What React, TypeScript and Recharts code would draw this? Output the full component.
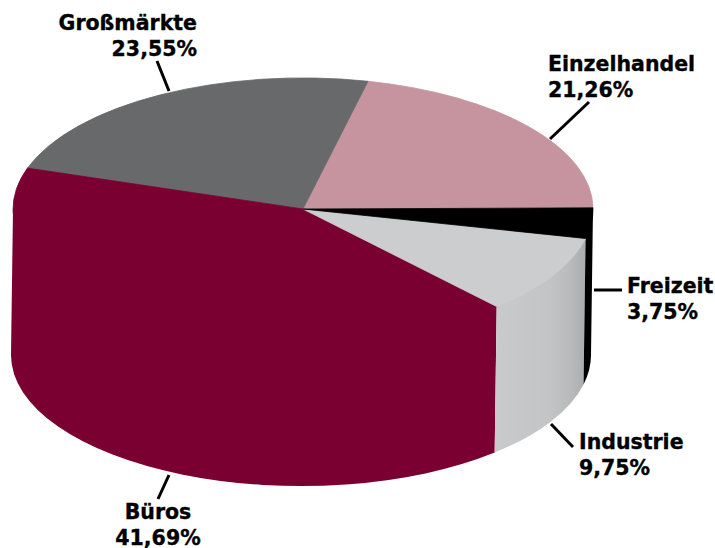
import React from "react";
import { PieChart, Pie } from "recharts";

const names = ["Einzelhandel", "Großmärkte", "Büros", "Industrie", "Freizeit"];
const shares = [21.26, 23.55, 41.69, 9.75, 3.75];
const topColors = ["#C6949F", "#68696B", "#7B0032", "#CBCDCF", "#000000"];
const sideColors = ["#C6949F", "#68696B", "#7B0032", "url(#industrieSide)", "#000000"];

const rows = names.map((name, i) => ({ name, value: shares[i], top: topColors[i], side: sideColors[i] }));

const CX = 303;
const CY = 209;
const RADIUS = 290;
const TILT = 0.452;
const DEPTH = 146;
const BASE_SHIFT = -2;
const START = 0.5;
const RAD = Math.PI / 180;

type Anchor = "start" | "end" | "middle";
const labelLayout: Record<string, { x: number; y: number; anchor: Anchor; line: number[] }> = {
  "Einzelhandel": { x: 548, y: 71, anchor: "start", line: [550, 139, 589, 102] },
  "Großmärkte": { x: 197, y: 30, anchor: "end", line: [169, 91, 157, 61] },
  "Büros": { x: 158, y: 519, anchor: "middle", line: [169, 475, 158, 499] },
  "Industrie": { x: 579, y: 449, anchor: "start", line: [551, 424, 573, 447] },
  "Freizeit": { x: 627, y: 293, anchor: "start", line: [594, 290, 622, 290] },
};

const pt = (cx: number, cy: number, r: number, t: number) =>
  `${(cx + r * Math.cos(t * RAD)).toFixed(2)} ${(cy - r * TILT * Math.sin(t * RAD)).toFixed(2)}`;

function TopFace(p: any) {
  const { cx, cy, outerRadius: r, startAngle, endAngle, payload } = p;
  const ry = r * TILT;
  const large = Math.abs(endAngle - startAngle) > 180 ? 1 : 0;
  const d = `M ${cx} ${cy} L ${pt(cx, cy, r, startAngle)} A ${r} ${ry} 0 ${large} 0 ${pt(cx, cy, r, endAngle)} Z`;
  return <path d={d} fill={payload.top} stroke={payload.top} strokeWidth={0.8} strokeLinejoin="round" />;
}

function SideWall(p: any) {
  const { cx, cy, outerRadius: r, startAngle, endAngle, payload } = p;
  const a = Math.max(startAngle, 180);
  const b = Math.min(endAngle, 360);
  if (b <= a) return <g />;
  const ry = r * TILT;
  const bx = cx + BASE_SHIFT;
  const by = cy + DEPTH;
  const d = `M ${pt(cx, cy, r, a)} L ${cx} ${cy} L ${pt(cx, cy, r, b)} L ${pt(bx, by, r, b)} A ${r} ${ry} 0 0 1 ${pt(bx, by, r, a)} Z`;
  return <path d={d} fill={payload.side} stroke="none" />;
}

function SliceLabel(p: any) {
  const { name, value } = p;
  const l = labelLayout[name];
  const font = {
    fontFamily: "'DejaVu Sans', sans-serif",
    fontWeight: 700,
    fontSize: 20.5,
    fill: "#000",
    stroke: "#000",
    strokeWidth: 0.35,
  };
  return (
    <g>
      <line x1={l.line[0]} y1={l.line[1]} x2={l.line[2]} y2={l.line[3]} stroke="#000" strokeWidth={3} />
      <text x={l.x} y={l.y} textAnchor={l.anchor} {...font}>{name}</text>
      <text x={l.x} y={l.y + 25.5} textAnchor={l.anchor} {...font}>{value.toFixed(2).replace(".", ",") + "%"}</text>
    </g>
  );
}

export default function App() {
  return (
    <div style={{ position: "absolute", left: 0, top: 0, width: 715, height: 548, background: "#fff" }}>
      <PieChart width={715} height={548} margin={{ top: 0, right: 0, bottom: 0, left: 0 }}>
        <defs>
          <linearGradient id="industrieSide" gradientUnits="userSpaceOnUse" x1="497" y1="0" x2="585" y2="0">
            <stop offset="0" stopColor="#C9CACC" />
            <stop offset="0.6" stopColor="#C3C4C6" />
            <stop offset="0.85" stopColor="#B8B9BB" />
            <stop offset="1" stopColor="#ABACAE" />
          </linearGradient>
        </defs>
        <Pie
          data={rows}
          dataKey="value"
          nameKey="name"
          cx={CX}
          cy={CY}
          innerRadius={0}
          outerRadius={RADIUS}
          startAngle={START}
          endAngle={START + 360}
          stroke="none"
          isAnimationActive={false}
          label={false}
          labelLine={false}
          shape={SideWall}
        />
        <Pie
          data={rows}
          dataKey="value"
          nameKey="name"
          cx={CX}
          cy={CY}
          innerRadius={0}
          outerRadius={RADIUS}
          startAngle={START}
          endAngle={START + 360}
          stroke="none"
          isAnimationActive={false}
          labelLine={false}
          label={SliceLabel}
          shape={TopFace}
        />
      </PieChart>
    </div>
  );
}
